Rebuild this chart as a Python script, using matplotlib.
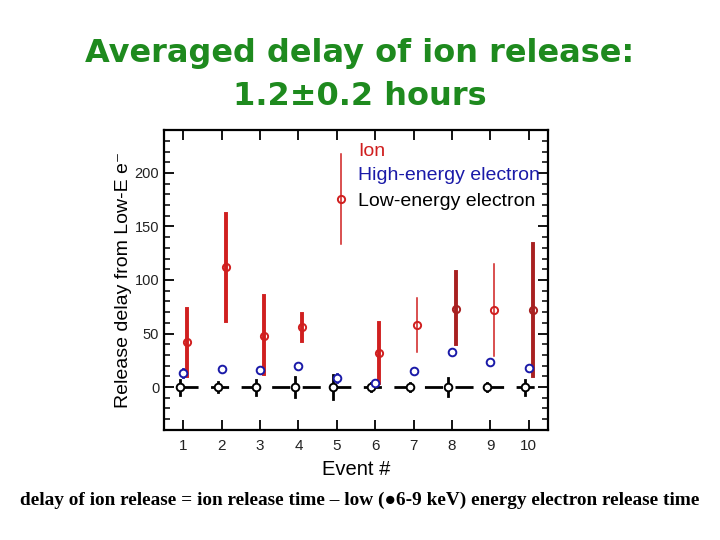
import matplotlib
matplotlib.use("Agg")
import matplotlib.pyplot as plt
from matplotlib.ticker import MultipleLocator, FixedLocator

events = [1, 2, 3, 4, 5, 6, 7, 8, 9, 10]

ion_delay = [42, 112, 48, 56, 176, 32, 58, 73, 72, 72]
ion_lo = [10, 62, 12, 43, 134, 4, 33, 40, 29, 10]
ion_hi = [73, 162, 85, 68, 218, 60, 83, 107, 115, 134]
ion_thick = [True, True, True, True, False, True, False, True, False, True]

high_delay = [13, 17, 16, 20, 8.5, 4, 15, 33, 23, 18]
high_err = [3.5, 1, 3, 1, 4, 3, 1, 1, 1, 1]

low_delay = [0, 0, 0, 0, 0, 0, 0, 0, 0, 0]
low_err = [7, 5, 7, 9, 11, 3.5, 4, 8, 3.5, 7]

title_lines = ["Averaged delay of ion release:", "1.2\u00b10.2 hours"]
legend_labels = ["Ion", "High-energy electron", "Low-energy electron"]
xlabel = "Event #"
ylabel = "Release delay from Low-E e\u207b"
footnote = "delay of ion release = ion release time \u2013 low (\u25cf6-9 keV) energy electron release time"

fig = plt.figure(figsize=(7.2, 5.4), dpi=100)
ax = fig.add_axes([0.228, 0.204, 0.533, 0.555])

sans = ["Liberation Sans", "DejaVu Sans"]
red = "#d01f1f"
dred = "#a82020"
blue = "#1a1aa8"

# dashed zero line
ax.plot([events[0] - 0.1, 10.5], [0, 0], color="black", lw=2.0, ls=(0, (6.5, 4.5)), zorder=1)

# low-energy electron (black)
for e, v, er in zip(events, low_delay, low_err):
    ax.plot([e - 0.1, e - 0.1], [v - er, v + er], color="black", lw=2.0, zorder=2)
ax.plot([e - 0.1 for e in events], low_delay, "o", mfc="white", mec="black",
        ms=5.5, mew=1.4, ls="none", zorder=3)

# high-energy electron (blue)
for e, v, er in zip(events, high_delay, high_err):
    ax.plot([e, e], [v - er, v + er], color=blue, lw=2.0, zorder=2)
ax.plot(events, high_delay, "o", mfc="white", mec=blue, ms=5.5, mew=1.4,
        ls="none", zorder=3)

# ion (red)
for e, v, lo, hi, th in zip(events, ion_delay, ion_lo, ion_hi, ion_thick):
    c = dred if e in (8, 10) else red
    ax.plot([e + 0.1, e + 0.1], [lo, hi], color=c, lw=2.8 if th else 1.1, zorder=2)
    ax.plot([e + 0.1], [v], "o", mfc="none", mec=c, ms=5.2, mew=1.4, zorder=3)

ax.set_xlim(0.5, 10.5)
ax.set_ylim(-40, 240)
ax.xaxis.set_major_locator(FixedLocator(events))
ax.yaxis.set_major_locator(MultipleLocator(50))
ax.yaxis.set_minor_locator(MultipleLocator(10))
ax.tick_params(axis="both", which="major", direction="in", length=7, width=1.3,
               top=True, right=True, labelsize=10.5)
ax.tick_params(axis="x", which="major", pad=6.5, labelsize=11)
ax.tick_params(axis="y", which="minor", direction="in", length=4, width=1.1,
               right=True, left=True)
for lab in ax.get_xticklabels() + ax.get_yticklabels():
    lab.set_family(sans)
    lab.set_color("#222222")
for s in ax.spines.values():
    s.set_linewidth(1.6)

ax.set_xlabel(xlabel, family=sans, fontsize=14.5, labelpad=5)
ax.set_ylabel(ylabel, family=sans, fontsize=14, labelpad=2)

# legend text
for lab, col, yy in zip(legend_labels, [red, blue, "black"], [0.93, 0.847, 0.763]):
    ax.text(0.505, yy, lab, transform=ax.transAxes, color=col, family=sans,
            fontsize=14, va="center", ha="left")

fig.text(0.5, 0.885, title_lines[0], ha="center", va="baseline", color="#1e8a1e",
         fontsize=23, fontweight="bold", family="DejaVu Sans")
fig.text(0.5, 0.806, title_lines[1], ha="center", va="baseline", color="#1e8a1e",
         fontsize=23, fontweight="bold", family="DejaVu Sans")

fig.text(0.5, 0.073, footnote, ha="center", va="center", color="black",
         fontsize=13.9, fontweight="bold", family=["Liberation Serif", "DejaVu Serif"])

fig.savefig("out.png", dpi=100)
